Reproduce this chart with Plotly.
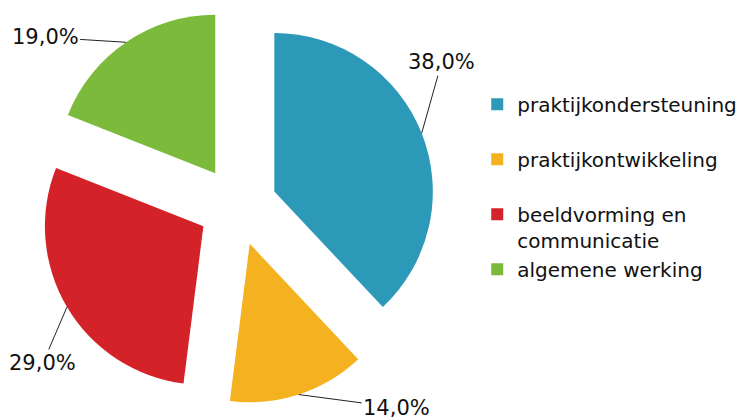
import math
import plotly.graph_objects as go

W, H = 749, 419

labels = [
    "praktijkondersteuning<br> ",
    "praktijkontwikkeling<br> ",
    "beeldvorming en<br>communicatie",
    "algemene werking",
]
values = [38.0, 14.0, 29.0, 19.0]
colors = ["#2b99b7", "#f5b220", "#d42229", "#7cba3b"]

PULL = 0.25
DOM_X = [0.0419, 0.5709]
DOM_Y = [0.0543, 1.0]

# label offsets (px) from the slice edge to the text
label_offsets = [(20, -71), (98, 13), (-24, 56), (-81, -5)]

FONT = "DejaVu Sans, Arial, sans-serif"

fig = go.Figure(
    go.Pie(
        labels=labels,
        values=values,
        marker=dict(colors=colors, line=dict(width=0)),
        pull=PULL,
        sort=False,
        direction="clockwise",
        rotation=0,
        textinfo="none",
        hoverinfo="label+percent",
        domain=dict(x=DOM_X, y=DOM_Y),
    )
)

# where plotly puts the pie: r = min(w, h) / (2 + 2 * pull)
dw = W * (DOM_X[1] - DOM_X[0])
dh = H * (DOM_Y[1] - DOM_Y[0])
r = min(dw, dh) / (2 + 2 * PULL)
cx = W * (DOM_X[0] + DOM_X[1]) / 2
cy = H * (1 - DOM_Y[0]) - dh / 2

total = sum(values)
start = 0.0
for val, (ax, ay) in zip(values, label_offsets):
    frac = val / total
    mid = (start + frac / 2) * 2 * math.pi
    start += frac
    dist = r * (1 + PULL)
    px = cx + dist * math.sin(mid)
    py = cy - dist * math.cos(mid)
    fig.add_annotation(
        x=px / W, y=1 - py / H, xref="paper", yref="paper",
        text=f"{val:.1f}%".replace(".", ","),
        showarrow=True, arrowhead=0, arrowwidth=1, arrowcolor="#222222",
        ax=ax, ay=ay, standoff=0,
        font=dict(size=21, color="#111111"),
    )

fig.update_layout(
    width=W, height=H,
    margin=dict(l=0, r=0, t=0, b=0),
    paper_bgcolor="white",
    plot_bgcolor="white",
    font=dict(family=FONT, color="#111111"),
    legend=dict(
        x=0.6265, y=0.817, xanchor="left", yanchor="top",
        font=dict(size=20, color="#111111"),
        valign="top",
        bgcolor="rgba(0,0,0,0)",
    ),
)

fig.write_html("out.html")
